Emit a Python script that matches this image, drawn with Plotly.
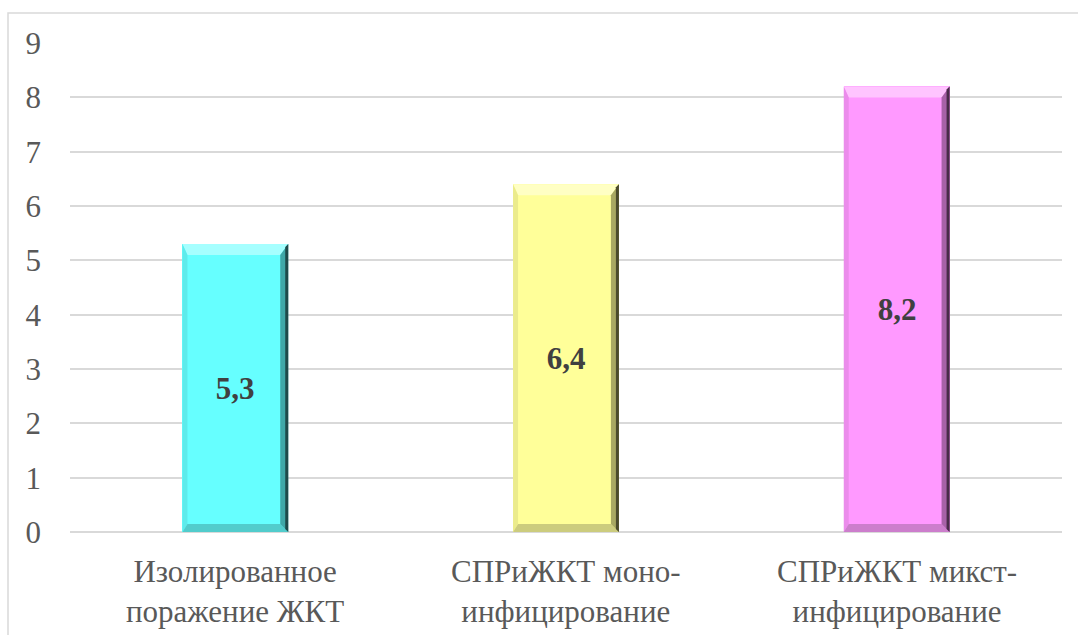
import plotly.graph_objects as go

# Data
categories = ["Изолированное<br>поражение ЖКТ",
              "СПРиЖКТ моно-<br>инфицирование",
              "СПРиЖКТ микст-<br>инфицирование"]
values = [5.3, 6.4, 8.2]
labels = [f"{v:.1f}".replace(".", ",") for v in values]

# Bar face colours with matching bevel shades: (face, top, left, right, right_edge, bottom)
palettes = [
    ("#66FFFF", "#A6FFFF", "#5EEBEB", "#3FA8A8", "#1E4A4A", "#52CCCC"),
    ("#FFFF99", "#FFFFC4", "#EBEB8C", "#A8A862", "#4A4A2C", "#CCCC7E"),
    ("#FF99FF", "#FFC4FF", "#EB8CEB", "#A862A8", "#4A2C4A", "#CC7ECC"),
]

# Layout geometry
W, H = 1078, 635
M_L, M_R, M_T, M_B = 70, 16, 43, 103
plot_w = W - M_L - M_R
plot_h = H - M_T - M_B
y_max = 9
bar_w = 0.32
SERIF = "Liberation Serif"

# pixel -> data unit conversions
px_x = len(categories) / plot_w
px_y = y_max / plot_h

fig = go.Figure()
fig.add_trace(go.Bar(
    x=list(range(len(categories))),
    y=values,
    width=bar_w,
    marker=dict(color=[p[0] for p in palettes], line=dict(width=0)),
    text=labels,
    textposition="inside",
    insidetextanchor="middle",
    textfont=dict(family=SERIF, size=31, color="#404040", weight="bold"),
    hovertext=[c.replace("<br>", " ") for c in categories],
    hoverinfo="text+y",
))


def poly(pts):
    return "M " + " L ".join(f"{x},{y}" for x, y in pts) + " Z"


shapes = []
for i, (v, pal) in enumerate(zip(values, palettes)):
    face, top_c, left_c, right_c, edge_c, bot_c = pal
    x0, x1 = i - bar_w / 2, i + bar_w / 2
    y0, y1 = 0, v
    bt, bl, br, bb = 11 * px_y, 5 * px_x, 8 * px_x, 8 * px_y
    # top bevel
    shapes.append(dict(type="path", path=poly([(x0, y1), (x1, y1), (x1 - br, y1 - bt), (x0 + bl, y1 - bt)]),
                       fillcolor=top_c, line=dict(width=0)))
    # left bevel
    shapes.append(dict(type="path", path=poly([(x0, y1), (x0 + bl, y1 - bt), (x0 + bl, y0 + bb), (x0, y0)]),
                       fillcolor=left_c, line=dict(width=0)))
    # bottom bevel
    shapes.append(dict(type="path", path=poly([(x0, y0), (x0 + bl, y0 + bb), (x1 - br, y0 + bb), (x1, y0)]),
                       fillcolor=bot_c, line=dict(width=0)))
    # right bevel
    shapes.append(dict(type="path", path=poly([(x1, y1), (x1 - br, y1 - bt), (x1 - br, y0 + bb), (x1, y0)]),
                       fillcolor=right_c, line=dict(width=0)))
    # dark outer right edge
    shapes.append(dict(type="path", path=poly([(x1, y1), (x1 - 3 * px_x, y1 - 3 * px_y),
                                               (x1 - 3 * px_x, y0 + 3 * px_y), (x1, y0)]),
                       fillcolor=edge_c, line=dict(width=0)))

# outer chart frame
shapes.append(dict(type="rect", xref="paper", yref="paper",
                   x0=(8 - M_L) / plot_w, x1=(W + 10 - M_L) / plot_w,
                   y0=-(M_B + 10) / plot_h, y1=1 + (M_T - 13) / plot_h,
                   line=dict(color="#D9D9D9", width=1.5), fillcolor="rgba(0,0,0,0)", layer="below"))

# two-line category labels under each bar
annotations = [
    dict(x=i, xref="x", y=-59 / plot_h, yref="paper",
         text=cat, showarrow=False, xanchor="center", yanchor="middle",
         font=dict(family=SERIF, size=31, color="#595959"))
    for i, cat in enumerate(categories)
]

fig.update_layout(
    width=W, height=H,
    margin=dict(l=M_L, r=M_R, t=M_T, b=M_B, pad=0),
    paper_bgcolor="white", plot_bgcolor="white",
    showlegend=False,
    bargap=0,
    shapes=shapes,
    annotations=annotations,
    font=dict(family=SERIF, color="#595959"),
    xaxis=dict(
        range=[-0.5, len(categories) - 0.5],
        showgrid=False, showline=False, zeroline=False,
        showticklabels=False, ticks="",
    ),
    yaxis=dict(
        range=[0, y_max], dtick=1,
        showgrid=True, gridcolor="#D9D9D9", gridwidth=1.5,
        zeroline=True, zerolinecolor="#D9D9D9", zerolinewidth=1.5,
        showline=False,
        tickfont=dict(family=SERIF, size=31, color="#595959"),
        ticks="", ticklabelstandoff=28,
    ),
)

fig.write_html("out.html")
